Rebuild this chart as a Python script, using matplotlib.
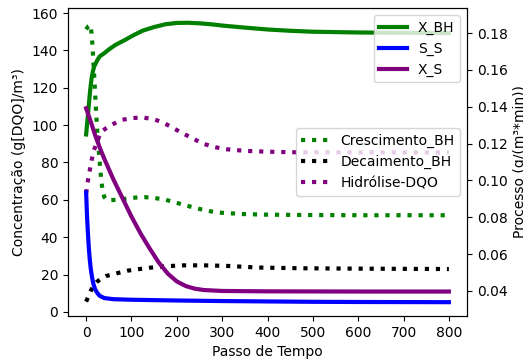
import matplotlib
matplotlib.use("Agg")
import matplotlib.pyplot as plt

# --- left axis series (concentrations) ---
x_bh_t = [0, 3, 6, 9, 12, 15, 18, 22, 26, 30, 40, 50, 65, 85, 105, 125, 150, 175, 200, 225, 250, 275, 300, 350, 400, 450, 500, 600, 700, 800]
x_bh = [95, 103, 111, 119, 125, 129, 131.5, 133.5, 135.3, 136.8, 138.5, 140.5, 143, 145.5, 148.2, 150.6, 152.5, 154, 154.7, 154.8, 154.5, 154, 153.3, 152.2, 151.2, 150.5, 150, 149.6, 149.4, 149.3]

s_s_t = [0, 2, 4, 6, 8, 10, 13, 16, 20, 25, 30, 40, 60, 100, 200, 300, 400, 500, 600, 800]
s_s = [64, 51, 42, 34, 28, 23.5, 18.5, 15, 12, 10, 8.6, 7.4, 6.8, 6.5, 6.1, 5.8, 5.6, 5.4, 5.3, 5.2]

x_s_t = [0, 10, 20, 30, 40, 60, 80, 100, 120, 140, 160, 180, 200, 220, 240, 260, 300, 400, 600, 800]
x_s = [109, 102, 94.5, 88, 82, 71, 61, 51, 42, 34, 26.5, 20.5, 16.3, 13.8, 12.4, 11.7, 11.2, 11.0, 10.9, 10.9]

# --- right axis series (process rates) ---
cresc_t = [0, 5, 9, 12, 14, 18, 22, 26, 29, 33, 36, 40, 45, 55, 70, 90, 110, 130, 150, 175, 200, 225, 250, 275, 300, 350, 400, 500, 600, 800]
cresc = [0.182, 0.1838, 0.1845, 0.180, 0.173, 0.156, 0.137, 0.121, 0.113, 0.101, 0.095, 0.091, 0.0894, 0.0893, 0.0895, 0.0902, 0.0907, 0.0909, 0.0905, 0.0895, 0.0878, 0.0861, 0.0845, 0.0832, 0.0824, 0.0817, 0.0814, 0.0812, 0.0811, 0.0811]

decai_t = [0, 5, 11, 17, 24, 34, 44, 68, 91, 115, 140, 165, 190, 215, 260, 310, 380, 480, 600, 800]
decai = [0.0342, 0.037, 0.0405, 0.043, 0.045, 0.0468, 0.0481, 0.0496, 0.051, 0.0518, 0.0526, 0.0532, 0.0536, 0.0539, 0.0539, 0.0536, 0.0527, 0.0523, 0.0521, 0.0519]

hidro_t = [0, 3, 7, 11, 16, 25, 33, 45, 55, 77, 100, 124, 150, 173, 195, 213, 235, 257, 280, 305, 353, 400, 450, 600, 800]
hidro = [0.093, 0.0986, 0.104, 0.1096, 0.1156, 0.1215, 0.1264, 0.1285, 0.130, 0.1328, 0.1338, 0.1342, 0.1332, 0.131, 0.128, 0.1256, 0.1228, 0.120, 0.1183, 0.117, 0.116, 0.1156, 0.1153, 0.1152, 0.1152]

fig = plt.figure(figsize=(5.23, 3.64), dpi=100)
ax = fig.add_axes([68/523, 1-316/364, (467-68)/523, (316-8)/364])
ax2 = ax.twinx()

ax.plot(x_bh_t, x_bh, color="green", lw=3, label="X_BH")
ax.plot(s_s_t, s_s, color="blue", lw=3, label="S_S")
ax.plot(x_s_t, x_s, color="purple", lw=3, label="X_S")

ax2.plot(cresc_t, cresc, color="green", lw=3, ls=":", label="Crescimento_BH")
ax2.plot(decai_t, decai, color="black", lw=3, ls=":", label="Decaimento_BH")
ax2.plot(hidro_t, hidro, color="purple", lw=3, ls=":", label="Hidrólise-DQO")

ax.set_xlim(-40, 840)
ax.set_ylim(-2.2, 162.7)
ax2.set_ylim(0.0264, 0.1936)
ax.set_xticks([0, 100, 200, 300, 400, 500, 600, 700, 800])
ax.set_yticks([0, 20, 40, 60, 80, 100, 120, 140, 160])
ax2.set_yticks([0.04, 0.06, 0.08, 0.10, 0.12, 0.14, 0.16, 0.18])

ax.set_xlabel("Passo de Tempo")
ax.set_ylabel("Concentração (g[DQO]/m³)")
ax2.set_ylabel("Processo (g/(m³*min))")

leg1 = ax.legend(loc="upper right")
ax.set_zorder(ax2.get_zorder() + 1)
ax.patch.set_visible(False)
ax2.legend(loc="center right")

fig.savefig("out.png", dpi=100)
